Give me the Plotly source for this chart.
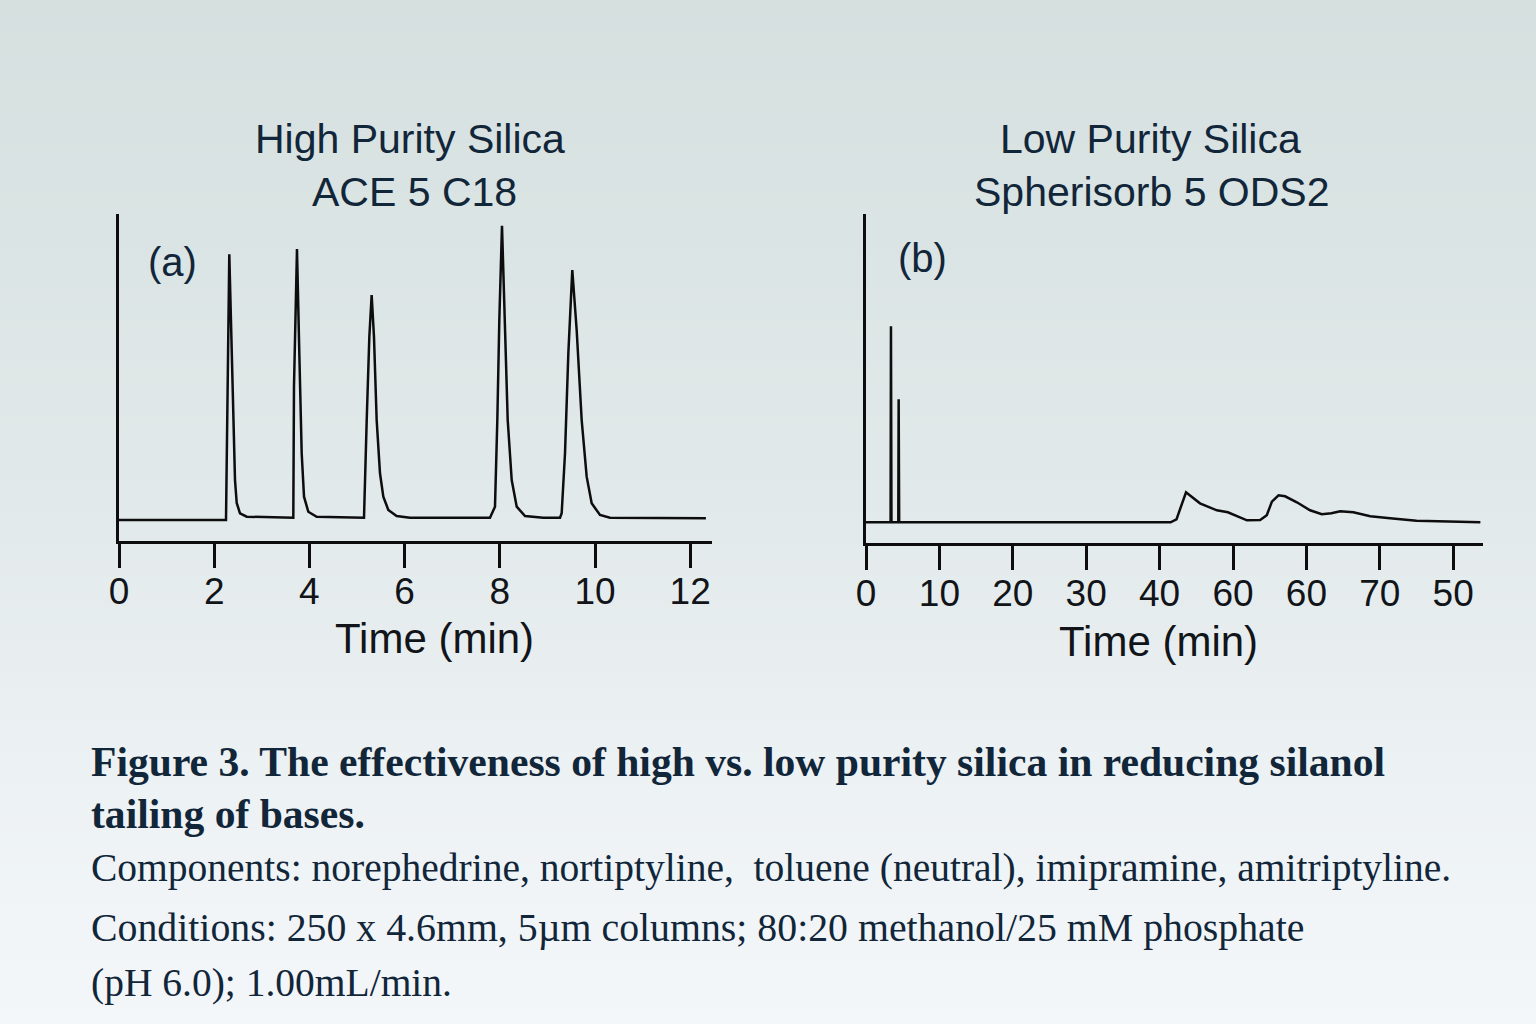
import plotly.graph_objects as go

# ---------------- data ----------------
# Panel (a): High purity silica, ACE 5 C18  (time in min, detector signal in arbitrary units)
time_a = [0.000, 2.248, 2.317, 2.367, 2.437, 2.473, 2.542, 2.683, 3.655,
          3.662, 3.676, 3.739, 3.788, 3.838, 3.887, 3.977, 4.153, 5.147,
          5.204, 5.259, 5.308, 5.357, 5.413, 5.483, 5.553, 5.658, 5.833, 6.113, 7.794,
          7.899, 7.948, 7.990, 8.046, 8.103, 8.166, 8.250, 8.355, 8.530, 8.914, 9.265,
          9.300, 9.370, 9.440, 9.523, 9.615, 9.720, 9.825, 9.930, 10.105, 10.315, 12.330]
signal_a = [0.0, 0.0, 265.7, 166.7, 40.0, 17.0, 6.7, 3.3, 2.5,
            2.3, 133.0, 271.0, 166.7, 66.7, 23.3, 8.3, 3.3, 2.3,
            100.0, 183.0, 225.0, 183.0, 100.0, 46.7, 23.3, 10.0, 4.0, 2.3, 2.3,
            13.3, 100.0, 200.0, 294.3, 200.0, 100.0, 40.0, 13.3, 4.0, 2.3, 2.3,
            6.7, 66.7, 166.7, 250.0, 190.0, 100.0, 43.3, 16.7, 5.0, 2.3, 1.7]

# Panel (b): Low purity silica, Spherisorb 5 ODS2
time_b = [0.0, 3.35, 3.40, 3.47, 4.40, 4.45, 4.52, 4.70,
          41.5, 42.3, 42.9, 43.6, 45.5, 47.8, 49.3, 50.7, 51.9, 53.7,
          54.6, 55.3, 56.2, 57.1, 58.7, 60.5, 62.1, 63.4, 64.6, 66.4,
          68.7, 71.4, 75.0, 83.7]
signal_b = [0, 0, 196, 0, 0, 123, 0, 0,
            0, 3, 15, 30, 19, 12, 10, 6, 2, 2.3,
            7, 20.7, 27, 26, 20, 12, 8, 9, 11, 10,
            6, 4, 1.6, 0]

ticks_a = [0, 2, 4, 6, 8, 10, 12]
ticklabels_a = ["0", "2", "4", "6", "8", "10", "12"]
ticks_b = [0, 10, 20, 30, 40, 50, 60, 70, 80]
ticklabels_b = ["0", "10", "20", "30", "40", "60", "60", "70", "50"]

title_a = ["High Purity Silica", "ACE 5 C18"]
title_b = ["Low Purity Silica", "Spherisorb 5 ODS2"]
caption_bold = ["Figure 3. The effectiveness of high vs. low purity silica in reducing silanol",
                "tailing of bases."]
caption_lines = ["Components: norephedrine, nortiptyline,&nbsp;&nbsp;toluene (neutral), imipramine, amitriptyline.",
                 "Conditions: 250 x 4.6mm, 5\u00b5m columns; 80:20 methanol/25 mM phosphate",
                 "(pH 6.0); 1.00mL/min."]

# ---------------- layout helpers ----------------
W, H = 1536, 1024
def px(x):
    return x / W
def py(y):
    return 1 - y / H

NAVY = "#12263a"
INK = "#111418"
SANS = "Liberation Sans, Arial, sans-serif"
SERIF = "Liberation Serif, Times New Roman, serif"

fig = go.Figure()
fig.add_trace(go.Scatter(x=time_a, y=signal_a, mode="lines", xaxis="x", yaxis="y",
                         line=dict(color="#0d0d0d", width=2.5), hoverinfo="skip", showlegend=False))
fig.add_trace(go.Scatter(x=time_b, y=signal_b, mode="lines", xaxis="x2", yaxis="y2",
                         line=dict(color="#0d0d0d", width=2.5), hoverinfo="skip", showlegend=False))

common_x = dict(showgrid=False, zeroline=False, showline=True, linecolor="#0d0d0d", linewidth=3,
                ticks="outside", ticklen=24, tickwidth=3, tickcolor="#0d0d0d", automargin=False,
                ticklabelstandoff=-8,
                tickfont=dict(family=SANS, size=37, color=INK), fixedrange=True)
common_y = dict(showgrid=False, zeroline=False, showline=True, linecolor="#0d0d0d", linewidth=3,
                ticks="", showticklabels=False, automargin=False, fixedrange=True)

fig.update_layout(
    template="none",
    width=W, height=H, autosize=False,
    margin=dict(l=0, r=0, t=0, b=0, pad=0),
    paper_bgcolor="rgb(226,233,234)",
    plot_bgcolor="rgba(0,0,0,0)",
    xaxis=dict(common_x, domain=[px(119), px(712)], range=[0, (712 - 119) / 47.6],
               tickvals=ticks_a, ticktext=ticklabels_a, anchor="y"),
    yaxis=dict(common_y, domain=[py(541), py(214)], range=[-21, 306], anchor="x"),
    xaxis2=dict(common_x, domain=[px(866), px(1483)], range=[0, (1483 - 866) / 7.34],
                tickvals=ticks_b, ticktext=ticklabels_b, anchor="y2"),
    yaxis2=dict(common_y, domain=[py(543), py(214)], range=[-20.7, 308.3], anchor="x2"),
    showlegend=False,
)

# background gradient (styling only)
stops = [(0, (213, 224, 223)), (500, (226, 233, 234)), (760, (236, 241, 243)), (1024, (244, 247, 250))]
nb = 64
for i in range(nb):
    y0 = i * H / nb
    y1 = (i + 1) * H / nb
    ym = (y0 + y1) / 2
    for j in range(len(stops) - 1):
        if stops[j][0] <= ym <= stops[j + 1][0]:
            f = (ym - stops[j][0]) / (stops[j + 1][0] - stops[j][0])
            c = [round(stops[j][1][k] + f * (stops[j + 1][1][k] - stops[j][1][k])) for k in range(3)]
            break
    fig.add_shape(type="rect", xref="paper", yref="paper", x0=-0.02, x1=1.02,
                  y0=py(y1 + 0.5), y1=py(y0 - 0.5),
                  fillcolor=f"rgb({c[0]},{c[1]},{c[2]})", line=dict(width=0), layer="below")

def note(text, x, y, size, family, color, xanchor="center", bold=False):
    fig.add_annotation(text=f"<b>{text}</b>" if bold else text, x=px(x), y=py(y),
                       xref="paper", yref="paper", xanchor=xanchor, yanchor="middle",
                       showarrow=False, font=dict(family=family, size=size, color=color))

# panel titles
note(title_a[0], 410, 139, 41, SANS, NAVY)
note(title_a[1], 414, 192, 41, SANS, NAVY)
note(title_b[0], 1150, 139, 41, SANS, NAVY)
note(title_b[1], 1152, 192, 41, SANS, NAVY)
# panel labels
note("(a)", 146, 262, 40, SANS, NAVY, xanchor="left")
note("(b)", 896, 258, 40, SANS, NAVY, xanchor="left")
# axis titles
note("Time (min)", 434, 638, 42, SANS, INK)
note("Time (min)", 1158, 641, 42, SANS, INK)
# caption
note(caption_bold[0], 89, 762, 41.6, SERIF, NAVY, xanchor="left", bold=True)
note(caption_bold[1], 89, 814, 41.6, SERIF, NAVY, xanchor="left", bold=True)
note(caption_lines[0], 89, 868, 39.5, SERIF, NAVY, xanchor="left")
note(caption_lines[1], 89, 928, 39.8, SERIF, NAVY, xanchor="left")
note(caption_lines[2], 89, 983, 39.5, SERIF, NAVY, xanchor="left")

fig.write_html("out.html", config={"displayModeBar": False})
